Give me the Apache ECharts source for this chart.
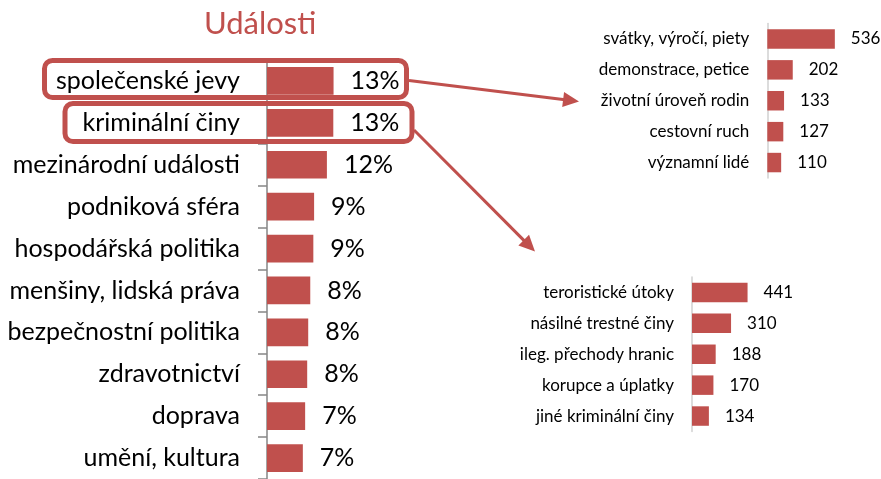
<!DOCTYPE html>
<html><head><meta charset="utf-8">
<script src="https://cdn.jsdelivr.net/npm/echarts@6/dist/echarts.min.js"></script>
<style>html,body{margin:0;padding:0;background:#fff}#c{width:881px;height:479px}</style>
</head><body><div id="c"></div>
<script>
const chartTitle = 'Události';
const mainCategories = ['společenské jevy','kriminální činy','mezinárodní události','podniková sféra','hospodářská politika','menšiny, lidská práva','bezpečnostní politika','zdravotnictví','doprava','umění, kultura'];
const mainValues = [13.0, 12.95, 11.7, 9.2, 9.05, 8.45, 8.05, 7.85, 7.45, 7.0];
const socialCategories = ['svátky, výročí, piety','demonstrace, petice','životní úroveň rodin','cestovní ruch','významní lidé'];
const socialValues = [536, 202, 133, 127, 110];
const crimeCategories = ['teroristické útoky','násilné trestné činy','ileg. přechody hranic','korupce a úplatky','jiné kriminální činy'];
const crimeValues = [441, 310, 188, 170, 134];

const RED = '#C0504D';
const FONT = 'Lato, sans-serif';

function arrow(x1, y1, x2, y2) {
  const dx = x2 - x1, dy = y2 - y1, L = Math.hypot(dx, dy);
  const ux = dx / L, uy = dy / L, hl = 16, hw = 7.5;
  const bx = x2 - ux * hl, by = y2 - uy * hl;
  return [
    { type: 'line', z: 100, shape: { x1: x1, y1: y1, x2: bx + ux * 2, y2: by + uy * 2 }, style: { stroke: RED, lineWidth: 3 } },
    { type: 'polygon', z: 100, shape: { points: [[x2, y2], [bx - uy * hw, by + ux * hw], [bx + uy * hw, by - ux * hw]] }, style: { fill: RED } }
  ];
}

const chart = echarts.init(document.getElementById('c'), null, { renderer: 'canvas' });
const smallAxis = {
  type: 'category', inverse: true,
  axisLine: { lineStyle: { color: '#D0D0D0', width: 1.5 } },
  axisTick: { show: false },
  axisLabel: { margin: 18, fontSize: 17, color: '#000', fontFamily: FONT }
};
chart.setOption({
  animation: false,
  backgroundColor: '#fff',
  textStyle: { fontFamily: FONT },
  title: { text: chartTitle, left: 204, top: 8, padding: 0, textStyle: { fontSize: 31, fontWeight: 'normal', color: RED, fontFamily: FONT } },
  grid: [
    { left: 267, top: 60, width: 102.4, height: 422 },
    { left: 767.3, top: 23.5, width: 75.6, height: 154.5 },
    { left: 692, top: 277, width: 75.6, height: 154.5 }
  ],
  xAxis: [
    { gridIndex: 0, type: 'value', min: 0, max: 20, show: false },
    { gridIndex: 1, type: 'value', min: 0, max: 600, show: false },
    { gridIndex: 2, type: 'value', min: 0, max: 600, show: false }
  ],
  yAxis: [
    { gridIndex: 0, type: 'category', inverse: true, data: mainCategories,
      axisLine: { lineStyle: { color: '#868686', width: 1.5 } },
      axisTick: { show: true, length: 9, lineStyle: { color: '#868686', width: 1.5 } },
      axisLabel: { margin: 27, fontSize: 25, color: '#000', fontFamily: FONT } },
    Object.assign({ gridIndex: 1, data: socialCategories }, smallAxis),
    Object.assign({ gridIndex: 2, data: crimeCategories }, smallAxis)
  ],
  series: [
    { type: 'bar', xAxisIndex: 0, yAxisIndex: 0, data: mainValues, barCategoryGap: '34%',
      itemStyle: { color: RED },
      label: { show: true, position: 'right', distance: 17, fontSize: 25, color: '#000', fontFamily: FONT,
        formatter: p => Math.round(p.value) + '%' } },
    { type: 'bar', xAxisIndex: 1, yAxisIndex: 1, data: socialValues, barCategoryGap: '37%',
      itemStyle: { color: RED },
      label: { show: true, position: 'right', distance: 16, fontSize: 17, color: '#000', fontFamily: FONT } },
    { type: 'bar', xAxisIndex: 2, yAxisIndex: 2, data: crimeValues, barCategoryGap: '37%',
      itemStyle: { color: RED },
      label: { show: true, position: 'right', distance: 16, fontSize: 17, color: '#000', fontFamily: FONT } }
  ],
  graphic: [
    { type: 'rect', z: 100, shape: { x: 44.5, y: 60.5, width: 362, height: 37, r: 8 }, style: { fill: null, stroke: RED, lineWidth: 5 } },
    { type: 'rect', z: 100, shape: { x: 65, y: 103.5, width: 347, height: 38, r: 8 }, style: { fill: null, stroke: RED, lineWidth: 5 } }
  ].concat(arrow(409, 80.5, 579, 101.5)).concat(arrow(414, 130, 535, 251.5))
});
</script></body></html>
